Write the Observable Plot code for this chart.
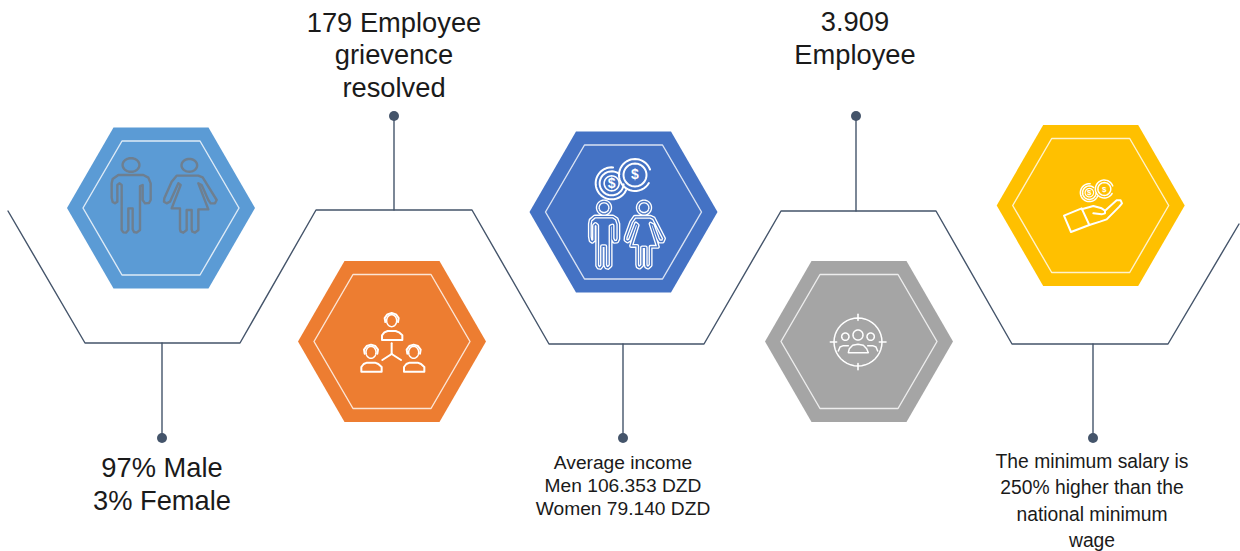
<!DOCTYPE html>
<html>
<head>
<meta charset="utf-8">
<script src="https://cdn.jsdelivr.net/npm/d3@7"></script>
<script src="https://cdn.jsdelivr.net/npm/@observablehq/plot@0.6"></script>
<style>
  html, body { margin: 0; padding: 0; background: #fff; }
  svg { display: block; }
</style>
</head>
<body>
<div id="chart"></div>
<script>
// Five hexagon tiles along a zig-zag timeline
const hexIds = ["gender", "grievance", "income", "staff", "wage"];
const hexCx = [161, 392, 623.5, 859, 1090.7];
const hexCy = [208, 341.5, 212, 341.5, 205.5];
const hexFill = ["#5B9BD5", "#ED7D31", "#4472C4", "#A5A5A5", "#FFC000"];

// Hexagon outlines relative to a tile's centre
const hexOuter = [[-94, 0], [-47.5, -80.5], [47.5, -80.5], [94, 0], [47.5, 80.5], [-47.5, 80.5]];
const hexInner = [[-78, 0], [-39, -67], [39, -67], [78, 0], [39, 67], [-39, 67]];

const timelineX = [8, 85, 240, 316, 472, 549, 704, 781, 936, 1012, 1168, 1239];
const timelineY = [211, 343, 343, 210, 210, 344, 344, 211, 211, 344, 344, 224];

const stemX = [162, 394, 623, 856, 1093];
const stemFrom = [343, 210, 344, 211, 344];
const stemTo = [438, 116, 438, 116, 438];

const largeLabels = ["179 Employee\ngrievence\nresolved", "3.909\nEmployee", "97% Male\n3% Female"];
const largeX = [394, 855, 162];
const largeY = [54, 37, 483];
const incomeLabel = "Average income\nMen 106.353 DZD\nWomen 79.140 DZD";
const wageLabel = "The minimum salary is\n250% higher than the\nnational minimum\nwage";

// Person outlines on a 3x icon grid
const manHeadAt = [213, 135];
const womanHeadAt = [388, 136];
const manOutline = [[155, 233], [155, 190], [158, 177], [175, 165], [250, 165], [265, 173], [272, 190], [272, 240], [267, 249], [255, 250], [248, 240], [248, 195], [240, 198], [240, 330], [230, 338], [222, 336], [218, 328], [218, 265], [205, 265], [205, 330], [198, 338], [190, 337], [185, 330], [185, 195], [178, 190], [172, 195], [172, 245], [165, 250], [158, 246], [155, 233]];
const womanOutline = [[355, 190], [330, 245], [320, 250], [312, 245], [313, 235], [335, 185], [350, 167], [415, 167], [428, 172], [470, 240], [465, 250], [452, 250], [445, 240], [425, 195], [415, 190], [445, 268], [415, 268], [415, 330], [405, 338], [397, 335], [395, 328], [395, 270], [380, 270], [380, 330], [370, 338], [362, 335], [360, 328], [360, 265], [335, 265], [362, 195]];

// Small bust figure, offsets from the centre of its head on a 3x grid
const bustBody = [[-29, 58], [-29, 44], [-22, 35], [-12, 31], [12, 31], [22, 35], [32, 44], [32, 58], [-29, 58]];
const bustHair = [[-19, 4], [-21, -8], [-13, -19], [0, -23], [13, -19], [21, -8], [19, 4]];
const bustHeads = [[290, 197], [228, 292], [356, 292]];
const bustLinks = [[[290, 265], [290, 297]], [[290, 297], [262, 315]], [[290, 297], [318, 315]]];

// Team-in-sights glyph on a 3x grid
const sightTicks = [[[294, 178], [294, 196]], [[294, 326], [294, 344]], [[211, 261], [230, 261]], [[358, 261], [378, 261]]];
const teamHeads = [[294, 240, 15], [256, 245, 11], [332, 245, 11]];
const teamCentre = [[265, 293], [268, 281], [278, 271], [294, 268], [310, 271], [320, 281], [325, 293], [265, 293]];
const teamLeft = [[235, 288], [240, 276], [250, 272], [265, 272]];
const teamRight = [[353, 288], [348, 276], [338, 272], [323, 272]];

// Open hand holding coins on a 3x grid
const handCuff = [[222, 287], [275, 265], [298, 315], [243, 336], [222, 287]];
const handPalm = [[275, 268], [310, 258], [335, 265], [345, 272], [380, 241], [392, 241], [396, 250], [388, 260], [350, 298], [330, 305], [298, 315]];
const handThumb = [[345, 272], [345, 280], [335, 283], [310, 280]];

const rows = [];
const dollars = [];
let lineId = 0;
function addPath(points, stroke, width) {
  const z = lineId++;
  points.forEach(([x, y]) => rows.push({x, y, z, stroke, width}));
}
function addArc(cx, cy, rx, ry, a0, a1, stroke, width) {
  const pts = d3.range(0, 41).map((i) => {
    const a = (a0 + (a1 - a0) * i / 40) * Math.PI / 180;
    return [cx + rx * Math.cos(a), cy + ry * Math.sin(a)];
  });
  addPath(pts, stroke, width);
}
const place = (ox, oy, s = 1 / 3) => ([x, y]) => [ox + x * s, oy + y * s];

function addFigures(ox, oy, sx, sy, mx, my, wx, wy, paint) {
  const manAt = ([x, y]) => [ox + (mx + (x - manHeadAt[0]) * sx) / 3, oy + (my + (y - manHeadAt[1]) * sy) / 3];
  const womanAt = ([x, y]) => [ox + (wx + (x - womanHeadAt[0]) * sx) / 3, oy + (wy + (y - womanHeadAt[1]) * sy) / 3];
  paint(manOutline.map(manAt), womanOutline.map(womanAt), manAt(manHeadAt), womanAt(womanHeadAt));
}

// Gender icon: plain grey figures
addFigures(60, 120, 1, 1, 213, 135, 388, 136, (m, w, mh, wh) => {
  addPath(m, "#6E7F90", 2.4);
  addPath([...w, w[0]], "#6E7F90", 2.4);
  addArc(mh[0], mh[1], 8.4, 6.8, 0, 360, "#6E7F90", 2.4);
  addArc(wh[0], wh[1], 7.8, 6.4, 0, 360, "#6E7F90", 2.4);
});

// Income icon: doubled white figures under a pair of coins
addFigures(525, 125, 0.73, 0.89, 237, 248, 357, 248, (m, w, mh, wh) => {
  for (const [stroke, width] of [["#fff", 4], ["#4472C4", 1.3]]) {
    addPath(m, stroke, width);
    addPath([...w, w[0]], stroke, width);
    addArc(mh[0], mh[1], 6.2, 6.2, 0, 360, stroke, width);
    addArc(wh[0], wh[1], 6.2, 6.2, 0, 360, stroke, width);
  }
});
function addCoins(ox, oy, k, c1, c2, width, dollarSize) {
  const [x1, y1] = [ox + c1[0] / 3, oy + c1[1] / 3];
  const [x2, y2] = [ox + c2[0] / 3, oy + c2[1] / 3];
  addArc(x2, y2, 16 * k, 16 * k, 30, 340, "#fff", width);
  addArc(x2, y2, 11.5 * k, 11.5 * k, 0, 360, "#fff", width);
  addArc(x1, y1, 16 * k, 16 * k, 25, 275, "#fff", width);
  addArc(x1, y1, 12 * k, 12 * k, 5, 310, "#fff", width);
  addArc(x1, y1, 7.5 * k, 7.5 * k, 0, 360, "#fff", width * 0.8);
  dollars.push({x: x1, y: y1, size: dollarSize}, {x: x2, y: y2, size: dollarSize});
}
addCoins(525, 125, 1, [260, 175], [330, 150], 2, 14);

// Grievance icon: three connected figures
for (const head of bustHeads) {
  const toPage = place(295 + head[0] / 3, 255 + head[1] / 3);
  addPath(bustBody.map(toPage), "#fff", 2);
  addPath(bustHair.map(toPage), "#fff", 2);
  const [hx, hy] = toPage([0, 0]);
  addArc(hx, hy, 5, 6, 0, 360, "#fff", 1.5);
}
bustLinks.forEach((link) => addPath(link.map(place(295, 255)), "#fff", 2));

// Headcount icon: team inside a crosshair
const sight = place(760, 255);
const [sightX, sightY] = sight([294, 261]);
addArc(sightX, sightY, 24, 24, 0, 360, "#fff", 1.5);
sightTicks.forEach((t) => addPath(t.map(sight), "#fff", 1.6));
teamHeads.forEach(([x, y, r]) => {
  const [hx, hy] = sight([x, y]);
  addArc(hx, hy, r / 3, r / 3, 0, 360, "#fff", 1.5);
});
[teamCentre, teamLeft, teamRight].forEach((s) => addPath(s.map(sight), "#fff", 1.5));

// Wage icon: hand below two coins
const hand = place(990, 120);
[handCuff, handPalm, handThumb].forEach((s) => addPath(s.map(hand), "#fff", 2));
addCoins(990, 120, 0.56, [298, 218], [343, 207], 1.5, 8);

const hexMarks = hexIds.flatMap((id, i) => {
  const at = (shape) => shape.map(([dx, dy]) => ({x: hexCx[i] + dx, y: hexCy[i] + dy}));
  return [
    Plot.line(at(hexOuter), {x: "x", y: "y", curve: "linear-closed", fill: hexFill[i], stroke: "none"}),
    Plot.line(at(hexInner), {x: "x", y: "y", curve: "linear-closed", fill: "none", stroke: "#fff", strokeOpacity: 0.8, strokeWidth: 1.4})
  ];
});

const timeline = timelineX.map((x, i) => ({x, y: timelineY[i]}));
const stems = stemX.flatMap((x, i) => [{x, y: stemFrom[i], i}, {x, y: stemTo[i], i}]);
const stemEnds = stemX.map((x, i) => ({x, y: stemTo[i]}));
const large = largeLabels.map((text, i) => ({text, x: largeX[i], y: largeY[i]}));
const textFont = "Liberation Sans, Arial, sans-serif";

const iconMarks = d3.groups(rows, (d) => d.z).map(([, pts]) =>
  Plot.line(pts, {x: "x", y: "y", stroke: pts[0].stroke, strokeWidth: pts[0].width, strokeLinejoin: "round", strokeLinecap: "round"})
);

const chart = Plot.plot({
  width: 1240,
  height: 551,
  margin: 0,
  x: {domain: [0.5, 1240.5], range: [0, 1240], axis: null},
  y: {domain: [0.5, 551.5], range: [0, 551], axis: null},
  style: {background: "#fff", fontFamily: textFont},
  marks: [
    Plot.line(timeline, {x: "x", y: "y", stroke: "#44546A", strokeWidth: 1.4}),
    Plot.line(stems, {x: "x", y: "y", z: "i", stroke: "#44546A", strokeWidth: 1.4}),
    Plot.dot(stemEnds, {x: "x", y: "y", r: 5, fill: "#44546A"}),
    ...hexMarks,
    ...iconMarks,
    Plot.text(dollars, {x: "x", y: "y", text: () => "$", fontSize: "size", fontWeight: "bold", fill: "#fff"}),
    Plot.text(large, {x: "x", y: "y", text: "text", fontSize: 27.3, lineHeight: 1.2, fill: "#1a1a1a"}),
    Plot.text([incomeLabel], {x: () => 623, y: () => 484.5, text: (d) => d, fontSize: 19.2, lineHeight: 1.2, fill: "#1a1a1a"}),
    Plot.text([wageLabel], {x: () => 1092, y: () => 499, text: (d) => d, fontSize: 19.3, lineHeight: 1.36, fill: "#1a1a1a"})
  ]
});
document.getElementById("chart").append(chart);
</script>
</body>
</html>
